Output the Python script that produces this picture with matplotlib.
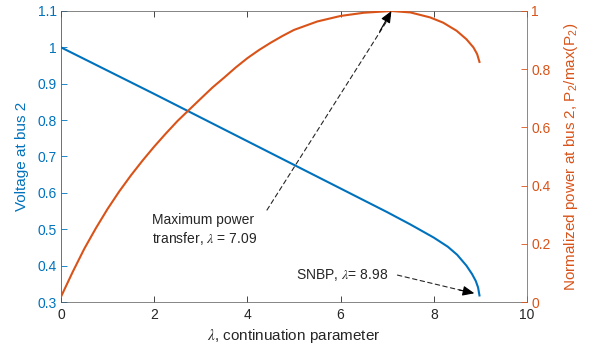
import matplotlib
matplotlib.use("Agg")
import matplotlib.pyplot as plt
from matplotlib import ticker

plt.rcParams['font.family'] = ['Liberation Sans', 'DejaVu Sans']
plt.rcParams['mathtext.fontset'] = 'stix'

# ---- data ----
lam_v = [0, 1, 2, 3, 4, 5, 6, 7, 7.5, 8.0, 8.3, 8.5, 8.7, 8.82, 8.9, 8.95, 8.98]
volt = [1.0, 0.936, 0.872, 0.807, 0.742, 0.677, 0.612, 0.547, 0.513, 0.477,
        0.452, 0.430, 0.400, 0.377, 0.358, 0.340, 0.318]

lam_p = [0, 0.25, 0.5, 0.75, 1.0, 1.25, 1.5, 1.75, 2.0, 2.25, 2.5, 2.72, 3.0, 3.25,
         3.5, 3.75, 4.0, 4.25, 4.5, 4.75, 5.0, 5.5, 6.0, 6.5, 7.09, 7.5, 7.92,
         8.2, 8.49, 8.7, 8.85, 8.93, 8.98]
power = [0.018, 0.103, 0.183, 0.254, 0.320, 0.380, 0.435, 0.486, 0.534, 0.579,
         0.622, 0.656, 0.699, 0.737, 0.771, 0.806, 0.838, 0.866, 0.891, 0.914,
         0.935, 0.964, 0.983, 0.994, 1.0, 0.995, 0.978, 0.960, 0.932, 0.903,
         0.875, 0.852, 0.825]

lam_maxpow = 7.09
lam_snbp = 8.98

xticks = [0, 2, 4, 6, 8, 10]
yticks_left = [0.3, 0.4, 0.5, 0.6, 0.7, 0.8, 0.9, 1.0, 1.1]
yticks_right = [0, 0.2, 0.4, 0.6, 0.8, 1.0]

blue = '#0072BD'
orange = '#D95319'
dark = '#262626'

fig = plt.figure(figsize=(5.98, 3.56), dpi=100)
ax = fig.add_axes([61 / 598, 1 - 302 / 356, 466 / 598, 291 / 356])
ax2 = ax.twinx()

ax.plot(lam_v, volt, color=blue, lw=1.5, zorder=3)
ax2.plot(lam_p, power, color=orange, lw=1.5, zorder=3)

ax.set_xlim(0, 10)
ax.set_ylim(0.3, 1.1)
ax2.set_ylim(0, 1)

fmt = ticker.FuncFormatter(lambda v, p: f'{v:g}')
ax.set_xticks(xticks)
ax.set_yticks(yticks_left)
ax2.set_yticks(yticks_right)
ax.xaxis.set_major_formatter(fmt)
ax.yaxis.set_major_formatter(fmt)
ax2.yaxis.set_major_formatter(fmt)

ax.tick_params(axis='x', direction='in', length=4, width=0.6, color=dark,
               labelcolor=dark, labelsize=10, top=True, pad=4)
ax.tick_params(axis='y', direction='in', length=4, width=0.6, color=blue,
               labelcolor=blue, labelsize=10, pad=3)
ax2.tick_params(axis='y', direction='in', length=4, width=0.6, color=orange,
                labelcolor=orange, labelsize=10, pad=3)

for s in ['top', 'bottom']:
    ax.spines[s].set_color('#555555')
    ax.spines[s].set_linewidth(0.5)
ax.spines['left'].set_color(blue)
ax.spines['left'].set_linewidth(0.6)
ax.spines['right'].set_visible(False)
for s in ['top', 'bottom', 'left']:
    ax2.spines[s].set_visible(False)
ax2.spines['right'].set_color(orange)
ax2.spines['right'].set_linewidth(0.6)

LAM = r'$\lambda$'
ax.set_xlabel(LAM + ', continuation parameter', fontsize=11, color=dark, labelpad=4)
ax.set_ylabel('Voltage at bus 2', fontsize=11, color=blue, labelpad=6)
ax2.set_ylabel(r'Normalized power at bus 2, P$_\mathregular{2}$/max(P$_\mathregular{2}$)',
               fontsize=11, color=orange, labelpad=8)

# ---- annotations ----
# maximum power transfer
ax2.text(1.96, 0.306, 'Maximum power\ntransfer, ' + LAM + f' = {lam_maxpow:.2f}',
         fontsize=10, color=dark, ha='left', va='top', linespacing=1.2, zorder=5)
tail = (4.42, 0.316)
ax2.annotate('', xy=(lam_maxpow - 0.02, 0.985), xytext=tail,
             arrowprops=dict(arrowstyle='-', linestyle=(0, (4, 3)), color=dark, lw=0.8,
                             shrinkA=0, shrinkB=0), zorder=5)
ax2.annotate('', xy=(lam_maxpow, 1.0), xytext=(lam_maxpow - 0.25, 0.93),
             arrowprops=dict(arrowstyle='-|>,head_length=0.7,head_width=0.3', color='black',
                             lw=0.8, shrinkA=0, shrinkB=0), zorder=6)

# SNBP
ax.text(5.05, 0.375, 'SNBP, ' + LAM + f'= {lam_snbp:.2f}', fontsize=10, color=dark,
        ha='left', va='center', zorder=5)
ax.annotate('', xy=(8.62, 0.331), xytext=(7.22, 0.374),
            arrowprops=dict(arrowstyle='-', linestyle=(0, (4, 3)), color=dark, lw=0.8,
                            shrinkA=0, shrinkB=0), zorder=5)
ax.annotate('', xy=(8.87, 0.324), xytext=(8.55, 0.333),
            arrowprops=dict(arrowstyle='-|>,head_length=0.7,head_width=0.3', color='black',
                            lw=0.8, shrinkA=0, shrinkB=0), zorder=6)

fig.savefig('out.png', dpi=100)
